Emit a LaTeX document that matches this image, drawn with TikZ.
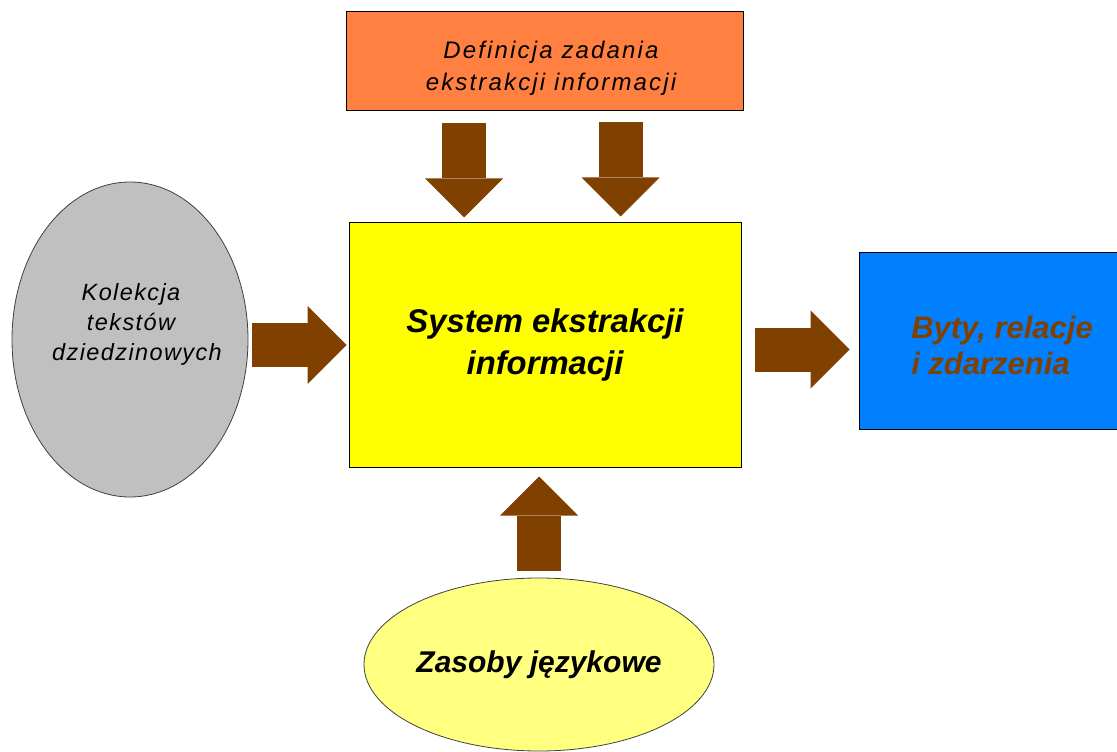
\documentclass[tikz,border=0pt]{standalone}
\usepackage{fontspec}
\setmainfont{Liberation Sans}
\newfontfamily\spacedA[LetterSpace=9]{Liberation Sans}
\newfontfamily\spacedB[LetterSpace=6]{Liberation Sans}
\usetikzlibrary{arrows.meta,shapes.geometric,calc}

\definecolor{arrowbrown}{RGB}{128,64,0}
\definecolor{taskorange}{RGB}{255,128,64}
\definecolor{sysyellow}{RGB}{255,255,0}
\definecolor{corpusgrey}{RGB}{192,192,192}
\definecolor{resultblue}{RGB}{0,128,255}
\definecolor{resyellow}{RGB}{255,255,128}

\begin{document}
\begin{tikzpicture}[x=0.75pt,y=-0.75pt,
  box/.style={draw=black, line width=0.75pt, inner sep=0pt},
  oval/.style={ellipse, draw=black!75, line width=0.6pt, inner sep=0pt},
  bigarrow/.style={draw=arrowbrown, line width=33pt,
    -{Triangle[length=29.25pt,width=58.5pt,line width=0pt]}},
  plaintext/.style={inner sep=0pt, align=center}]

\useasboundingbox (0,0) rectangle (1117,752);

% boxes and ovals
\node[box, fill=taskorange, minimum width=297.75pt, minimum height=74.25pt]
  (def) at (544.5,61.5) {};
\node[box, fill=sysyellow, minimum width=294pt, minimum height=183pt,
  align=center, font=\bfseries\itshape\fontsize{24.6}{31.5}\selectfont]
  (sys) at (545,345) {System ekstrakcji\\informacji};
\node[box, fill=resultblue, minimum width=194.25pt, minimum height=132pt]
  (out) at (988.5,341) {};
\node[oval, fill=corpusgrey, minimum width=177pt, minimum height=236.25pt]
  (corpus) at (130,339.5) {};
\node[oval, fill=resyellow, minimum width=262.5pt, minimum height=129.75pt,
  font=\bfseries\itshape\fontsize{22.5}{27}\selectfont]
  (res) at (539,664.5) {Zasoby językowe};

% texts
\node[plaintext, font={\spacedA\itshape\fontsize{18}{24}\selectfont}]
  (deftext) at (551,68) {Definicja zadania\\ekstrakcji informacji};
\node[plaintext, font={\spacedB\itshape\fontsize{17.6}{22.5}\selectfont}]
  (corpustext) at (131,324.5) {Kolekcja\\tekstów\\\hspace*{9pt}dziedzinowych};
\node[inner sep=0pt, anchor=west, align=left, text=arrowbrown,
  font=\bfseries\itshape\fontsize{23.25}{27}\selectfont]
  (outtext) at (911,345.7) {Byty, relacje\\i zdarzenia};

% start points of the block arrows
\coordinate (d1) at ($(def.south)+(-80.5,0)$);
\coordinate (d2) at ($(def.south)+(76,0)$);
\coordinate (r1) at ($(sys.east)+(0,4.5)$);

% block arrows
\draw[bigarrow, shorten <=8.6pt, shorten >=3.75pt] (d1) -- (d1 |- sys.north);
\draw[bigarrow, shorten <=8.25pt, shorten >=4.5pt] (d2) -- (d2 |- sys.north);
\draw[bigarrow, shorten <=3pt, shorten >=1.5pt] (corpus.east |- sys.west) -- (sys.west);
\draw[bigarrow, shorten <=9.75pt, shorten >=6.75pt] (r1) -- (r1 -| out.west);
\draw[bigarrow, shorten <=5.25pt, shorten >=6.75pt] (res.north) -- (res.north |- sys.south);

\end{tikzpicture}
\end{document}
